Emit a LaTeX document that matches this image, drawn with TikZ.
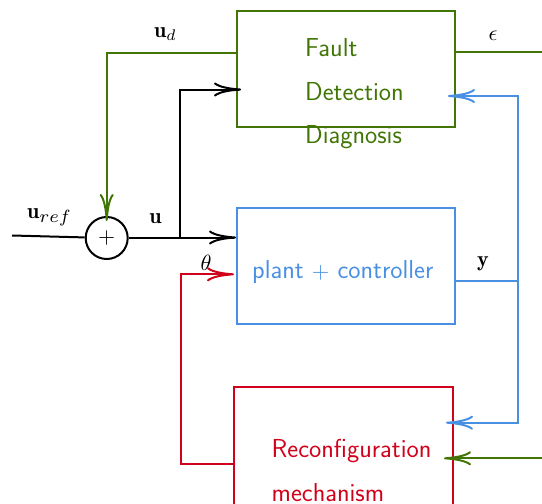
\documentclass[tikz,border=0pt]{standalone}
\usepackage{fontspec}
\usetikzlibrary{arrows.meta}
\definecolor{fddgreen}{HTML}{417505}
\definecolor{plantblue}{HTML}{4A90E2}
\definecolor{reconred}{HTML}{D0021B}
% enlarged math symbols (math is set at 10pt and scaled up)
\newcommand{\bigmath}[1]{\scalebox{2.2}{$#1$}}
\begin{document}
\begin{tikzpicture}[x=1pt,y=-1pt,
  >={Computer Modern Rightarrow[length=27pt,width=14pt]},
  wire/.style={line width=2pt},
  block/.style={draw, line width=2pt, minimum width=218pt, minimum height=116pt, inner sep=0pt},
  blocktext/.style={font=\sffamily\fontsize{26}{43.5}\selectfont, align=left, inner sep=0pt},
  lbl/.style={font=\fontsize{10}{12}\selectfont, inner sep=0pt}]
\useasboundingbox (0,0) rectangle (542,504);

% blocks
\node[block, draw=fddgreen] (fdd) at (346,69) {};
\node[block, draw=plantblue] (plant) at (346,266) {};
\node[block, draw=reconred, minimum width=219pt, minimum height=124pt] (recon) at (343.5,449) {};

% block captions (anchored at the baseline of their last line)
\node[blocktext, text=fddgreen, anchor=base west] (fddlabel) at (305,143.5) {Fault\\Detection\\Diagnosis};
\node[blocktext, text=plantblue, anchor=base west] (plantlabel) at (252,278) {plant {\fontsize{10}{12}\selectfont\scalebox{2.25}{$+$}} controller};
\node[blocktext, text=reconred, anchor=base west] (reconlabel) at (271.5,501) {Reconfiguration\\mechanism};

% summing junction
\node[draw, circle, line width=2pt, minimum size=42pt, inner sep=0pt, lbl] (sum) at (106.7,238) {\bigmath{+}};

% signal labels
\node[lbl, anchor=base west] (uref) at (27,218) {\bigmath{\mathbf{u}_{\scalebox{1.15}{$\scriptstyle ref$}}}};
\node[lbl, anchor=base] (ulbl) at (155.5,223) {\bigmath{\mathbf{u}}};
\node[lbl, anchor=base west] (udlbl) at (154,37) {\bigmath{\mathbf{u}_d}};
\node[lbl, anchor=base] (eps) at (493,40) {\bigmath{\epsilon}};
\node[lbl, anchor=base] (ylbl) at (483,266.7) {\bigmath{\mathbf{y}}};
\node[lbl, anchor=base] (thlbl) at (206,270) {\bigmath{\theta}};

% free ends and taps
\coordinate (in) at (12,235.5);
\coordinate (br) at (179.5,237.5);
\coordinate (epsend) at (542,51.5);
\coordinate (ytap) at (518,281);
\coordinate (fb) at (542,458.3);

% reference input and control signal
\draw[wire] (in) -- (sum);
\draw[wire,->] (sum.east |- br) -- (plant.west |- br);
\draw[wire,->] (br) |- ([xshift=5pt]fdd.west |- 0,89.5);

% fault detection outputs
\draw[wire,fddgreen,->] (fdd.west |- 0,53.3) -| ([yshift=-5pt]sum.north);
\draw[wire,fddgreen] (fdd.east |- epsend) -- (epsend);
\draw[wire,fddgreen,->] (fb) -- ([xshift=-10pt]recon.east |- fb);

% measured output
\draw[wire,plantblue] (plant.east |- ytap) -- (ytap);
\draw[wire,plantblue,->] (ytap) |- ([xshift=-8pt]fdd.east |- 0,96);
\draw[wire,plantblue,->] (ytap) |- ([xshift=-8pt]recon.east |- 0,422.7);

% reconfiguration parameters
\draw[wire,reconred,->] (recon.west |- 0,464) -- ++(-52.3,0) |- ([xshift=-2pt]plant.west |- 0,274.3);
\end{tikzpicture}
\end{document}
